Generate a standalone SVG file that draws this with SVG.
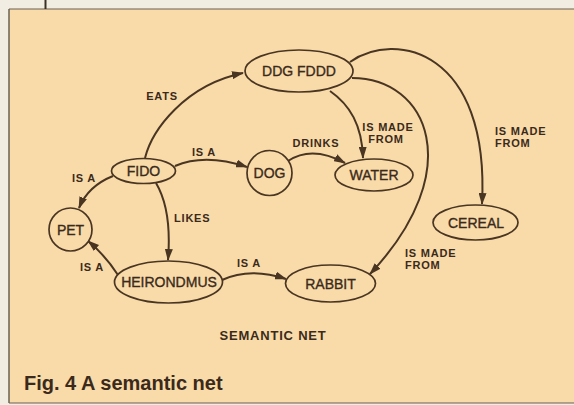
<svg xmlns="http://www.w3.org/2000/svg" width="574" height="405" viewBox="0 0 574 405">
  <style>
    .node { fill: #f8dba8; stroke: #4a3522; stroke-width: 1.7; }
    .nt { font-family: "Liberation Sans", Arial, sans-serif; font-size: 14px; fill: #3b2a1c; stroke: #3b2a1c; stroke-width: 0.35; text-anchor: middle; }
    .el { font-family: "Liberation Sans", Arial, sans-serif; font-size: 11px; font-weight: bold; fill: #3b2a1c; letter-spacing: 0.8px; }
    .edge { fill: none; stroke: #4a3522; stroke-width: 2; marker-end: url(#arr); }
  </style>
  <defs>
    <marker id="arr" markerUnits="userSpaceOnUse" markerWidth="12" markerHeight="8" refX="11" refY="4" orient="auto">
      <path d="M0,0 L12,4 L0,8 Z" fill="#4a3522"/>
    </marker>
  </defs>
  <!-- page -->
  <rect x="0" y="0" width="574" height="405" fill="#f1ede2"/>
  <rect x="9" y="9" width="566" height="394" fill="#f8dba8"/>
  <line x1="9" y1="9" x2="574" y2="9" stroke="#6b6155" stroke-width="1.2"/>
  <line x1="9" y1="9" x2="9" y2="403" stroke="#6b6155" stroke-width="1.5"/>
  <line x1="9" y1="403" x2="574" y2="403" stroke="#6b6155" stroke-width="1.2"/>
  <line x1="45.5" y1="0" x2="45.5" y2="9" stroke="#3a3026" stroke-width="2"/>

  <g id="connectors">
    <path id="e-eats" class="edge" d="M145,158 C152,130 185,85 243,73"/>
    <path id="e-fido-dog" class="edge" d="M175,166 Q205,153 247,167"/>
    <path id="e-drinks" class="edge" d="M288,161 Q312,145 345,163"/>
    <path id="e-ddg-water" class="edge" d="M330,91 C350,105 362,125 363,158"/>
    <path id="e-ddg-cereal" class="edge" d="M350,62 C395,30 490,50 482,204"/>
    <path id="e-ddg-rabbit" class="edge" d="M352,78 C428,78 468,170 370,274"/>
    <path id="e-fido-pet" class="edge" d="M113,176 Q88,186 79,208"/>
    <path id="e-likes" class="edge" d="M156,183 Q172,210 168,260"/>
    <path id="e-heir-pet" class="edge" d="M118,275 Q105,255 88,241"/>
    <path id="e-heir-rabbit" class="edge" d="M222,280 Q250,267 286,279"/>
    <text class="el" x="162" y="100" text-anchor="middle">EATS</text>
    <text class="el" x="204" y="156" text-anchor="middle">IS A</text>
    <text class="el" x="316" y="147" text-anchor="middle">DRINKS</text>
    <text class="el" x="388" y="131" text-anchor="middle">IS MADE</text>
    <text class="el" x="386" y="143" text-anchor="middle">FROM</text>
    <text class="el" x="495" y="135">IS MADE</text>
    <text class="el" x="495" y="147">FROM</text>
    <text class="el" x="405" y="257">IS MADE</text>
    <text class="el" x="405" y="269">FROM</text>
    <text class="el" x="174" y="222">LIKES</text>
    <text class="el" x="84" y="182" text-anchor="middle">IS A</text>
    <text class="el" x="92" y="271" text-anchor="middle">IS A</text>
    <text class="el" x="249" y="267" text-anchor="middle">IS A</text>
  </g>

  <g id="ddg-fddd"><ellipse class="node" cx="299" cy="71" rx="54" ry="21"/><text class="nt" x="299" y="76">DDG FDDD</text></g>
  <g id="fido"><ellipse class="node" cx="143.5" cy="171" rx="32" ry="12.5"/><text class="nt" x="143.5" y="176">FIDO</text></g>
  <g id="dog"><circle class="node" cx="269.5" cy="173" r="22.5"/><text class="nt" x="269.5" y="178">DOG</text></g>
  <g id="water"><ellipse class="node" cx="374" cy="175" rx="39" ry="16"/><text class="nt" x="374" y="180">WATER</text></g>
  <g id="cereal"><ellipse class="node" cx="475.5" cy="222.5" rx="42.5" ry="17.5"/><text class="nt" x="476" y="227.5">CEREAL</text></g>
  <g id="pet"><circle class="node" cx="70.5" cy="229.5" r="21.5"/><text class="nt" x="70.5" y="234.5">PET</text></g>
  <g id="heirondmus"><ellipse class="node" cx="168.5" cy="282" rx="54" ry="21"/><text class="nt" x="169" y="287">HEIRONDMUS</text></g>
  <g id="rabbit"><ellipse class="node" cx="330.5" cy="283.5" rx="45" ry="18.5"/><text class="nt" x="330.5" y="288.5">RABBIT</text></g>

  <text x="273" y="340" text-anchor="middle" font-family="Liberation Sans, Arial, sans-serif" font-size="13" font-weight="bold" letter-spacing="0.8" fill="#3b2a1c">SEMANTIC NET</text>
  <text x="24" y="390" font-family="Liberation Sans, Arial, sans-serif" font-size="20" font-weight="bold" fill="#3b2a1c">Fig. 4 A semantic net</text>
</svg>
